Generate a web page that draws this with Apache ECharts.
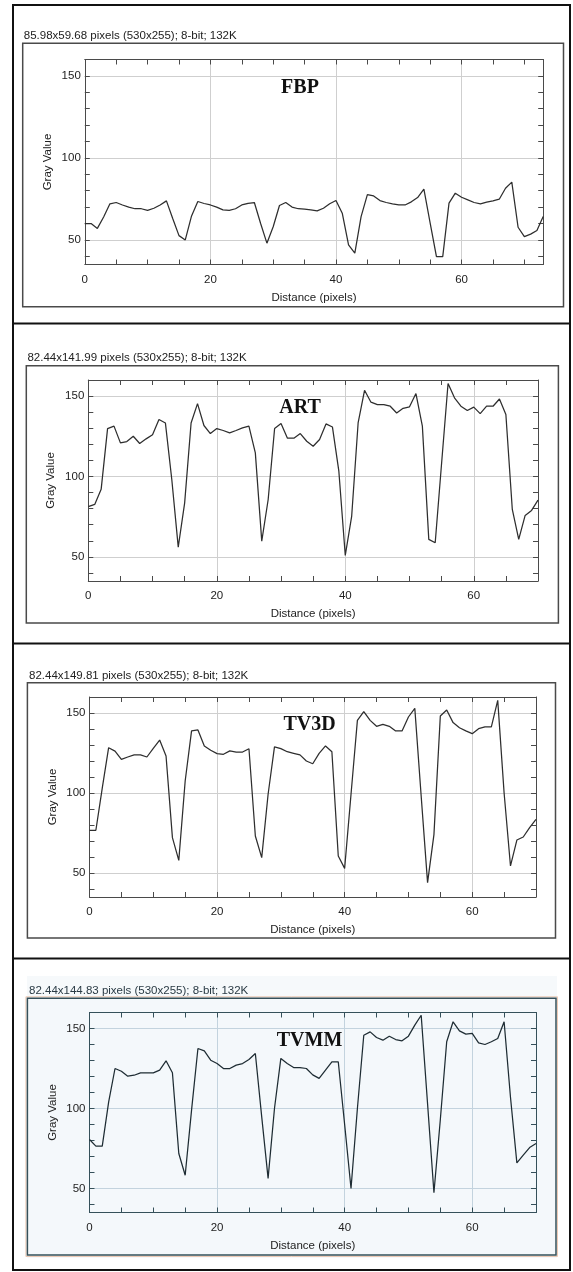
<!DOCTYPE html>
<html>
<head>
<meta charset="utf-8">
<script src="https://cdn.jsdelivr.net/npm/echarts@6/dist/echarts.min.js"></script>
<style>
html, body { margin: 0; padding: 0; background: #fff; }
#chart { width: 573px; height: 1272px; }
</style>
</head>
<body>
<div id="chart"></div>
<script>
// gray value profiles, one value per pixel of distance
const fbpValues = [60, 60, 57, 64, 72, 72.8, 71.3, 70, 69, 69, 68, 69.3, 71.3, 73.8, 63, 52.6, 50, 64.6, 73.4, 72.2,
    71.3, 70, 68.3, 68, 69, 71.3, 72.3, 72.8, 60, 48, 58, 71, 72.8, 70, 69, 68.8, 68.3, 67.7, 69.3, 72,
    74, 66.3, 47, 41.9, 64.2, 77.6, 76.8, 74, 72.8, 72, 71.3, 71.3, 73.2, 75.8, 80.9, 60.2, 39.8, 39.8, 72.4, 78.5,
    76, 74.4, 72.8, 72, 73, 73.8, 74.8, 81.5, 85.2, 57.7, 52, 53.5, 55.7, 64.2]
const artValues = [81.2, 82.6, 92, 129.8, 131.3, 120.9, 121.7, 125, 120.5, 123.4, 125.9, 135.4, 133.3, 98, 56.1, 83.6, 133.3, 145.3, 131.7, 126.7,
    129.8, 128.6, 127.1, 128.6, 130.2, 131.3, 114.7, 59.8, 85.7, 129.8, 132.9, 123.8, 123.8, 126.7, 121.9, 118.8, 123, 132.7, 130.8, 103.3,
    50.9, 75.4, 133.3, 153.6, 146.2, 144.7, 144.7, 143.7, 139.5, 142.4, 143.3, 151.6, 131.3, 60.9, 58.8, 108.5, 157.8, 148.9, 143.7, 141,
    143.1, 139.1, 143.7, 143.7, 148.2, 138.5, 79.5, 60.9, 75.8, 78.9, 85.3]
const tv3dValues = [76.7, 76.7, 103, 128.3, 126.2, 121, 122.5, 123.8, 123.8, 122.5, 127.9, 133.1, 123.1, 72.1, 57.9, 107.5, 138.8, 139.4, 129.4, 126.7,
    124.6, 124.2, 126.3, 125.6, 125.6, 127.7, 73.1, 59.6, 99.2, 128.8, 127.7, 125.8, 124.8, 123.8, 120, 118.3, 124.8, 129.4, 125.8, 60.6,
    52.9, 99.2, 145.4, 150.8, 145.4, 141.7, 142.9, 141.7, 138.8, 138.8, 147.5, 152.9, 98, 44, 74, 148.1, 151.9, 144, 140.8, 138.8,
    137.1, 140.2, 141.3, 141.3, 157.9, 100, 54.4, 70.6, 72.5, 78.3, 83.5]
const tvmmValues = [80.6, 76.5, 76.5, 104, 125, 123.3, 120.2, 120.8, 122.3, 122.3, 122.3, 124, 129.8, 122.3, 71.9, 58.3, 99, 137.5, 136, 130.2,
    128.1, 125, 125, 127.1, 128.1, 130.6, 134.4, 94.8, 56.3, 100, 131.3, 128.1, 125.6, 125.6, 125, 121, 118.8, 124, 129.2, 129.2,
    90, 50, 100, 145.8, 147.9, 144.4, 142.7, 145.2, 143.1, 142.3, 145.2, 152.1, 158.3, 103, 47.3, 93, 141.7, 154.2, 148.5, 146.5,
    146.9, 141, 140, 141.7, 143.75, 154.2, 107, 66, 70.8, 75.6, 78.1]

const methods = ['FBP', 'ART', 'TV3D', 'TVMM']
const captions = [
    '85.98x59.68 pixels (530x255); 8-bit; 132K',
    '82.44x141.99 pixels (530x255); 8-bit; 132K',
    '82.44x149.81 pixels (530x255); 8-bit; 132K',
    '82.44x144.83 pixels (530x255); 8-bit; 132K'
]
const xMaxes = [73, 70, 70, 70]
const xTicks = [0, 5, 10, 15, 20, 25, 30, 35, 40, 45, 50, 55, 60, 65, 70]
const xLabels = [0, 20, 40, 60]
const yTicks = [40, 50, 60, 70, 80, 90, 100, 110, 120, 130, 140, 150, 160]
const yLabels = [50, 100, 150]
const yMin = 35
const yMax = 160

const sans = '"Liberation Sans", Arial, sans-serif'
const serif = '"Liberation Serif", "Times New Roman", serif'

// layout of each ImageJ window
const panels = [
    { grid: { left: 84.8, top: 59.5, width: 458.4, height: 205 }, win: [22.7, 43.3, 540.8, 263.4], cap: [23.8, 36], tag: [300, 88] },
    { grid: { left: 88.3, top: 380, width: 449.7, height: 201 }, win: [26.3, 365.7, 532.1, 257.3], cap: [27.4, 358], tag: [300, 408] },
    { grid: { left: 89.5, top: 697, width: 446.5, height: 200 }, win: [27.4, 682.7, 528.1, 255.3], cap: [29, 676], tag: [309.5, 725] },
    { grid: { left: 89.5, top: 1012.5, width: 446.5, height: 200 }, win: [27.4, 998.3, 528.6, 256.7], cap: [29, 990.7], tag: [309.5, 1041] }
]
const seriesData = [fbpValues, artValues, tv3dValues, tvmmValues]

const chart = echarts.init(document.getElementById('chart'), null, { renderer: 'canvas' })

const grids = [], xAxes = [], yAxes = [], series = [], graphics = []

panels.forEach((p, i) => {
    const last = i === 3
    const frame = last ? '#35505a' : '#4a4a4a'
    const gridColor = last ? '#c3d3de' : '#cfcfcf'
    const lineColor = last ? '#1e2c33' : '#2e2e2e'
    grids.push(Object.assign({ outerBoundsMode: 'none', containLabel: false }, p.grid))

    const xBase = { gridIndex: i, type: 'value', min: 0, max: xMaxes[i] }
    xAxes.push(Object.assign({}, xBase, {
        position: 'bottom',
        axisLine: { show: true, onZero: false, lineStyle: { color: frame, width: 1 } },
        axisTick: { show: true, inside: true, length: 5, customValues: xTicks, lineStyle: { color: frame } },
        axisLabel: { customValues: xLabels, color: '#222', fontSize: 11.5, fontFamily: sans, margin: 9 },
        splitLine: { show: false },
        name: 'Distance (pixels)', nameLocation: 'middle', nameGap: 27,
        nameTextStyle: { color: '#222', fontSize: 11.5, fontFamily: sans }
    }))
    xAxes.push(Object.assign({}, xBase, {
        position: 'top',
        axisLine: { show: true, onZero: false, lineStyle: { color: frame, width: 1 } },
        axisTick: { show: true, inside: true, length: 5, customValues: xTicks, lineStyle: { color: frame } },
        axisLabel: { show: false },
        splitLine: { show: false }
    }))
    xAxes.push(Object.assign({}, xBase, {
        position: 'bottom',
        axisLine: { show: false, onZero: false },
        axisTick: { show: false, customValues: xLabels },
        axisLabel: { show: false },
        splitLine: { show: true, lineStyle: { color: gridColor, width: 1 } }
    }))

    const yBase = { gridIndex: i, type: 'value', min: yMin, max: yMax }
    yAxes.push(Object.assign({}, yBase, {
        position: 'left',
        axisLine: { show: true, onZero: false, lineStyle: { color: frame, width: 1 } },
        axisTick: { show: true, inside: true, length: 5, customValues: yTicks, lineStyle: { color: frame } },
        axisLabel: { customValues: yLabels, color: '#222', fontSize: 11.5, fontFamily: sans, margin: 4 },
        splitLine: { show: false },
        name: 'Gray Value', nameLocation: 'middle', nameGap: 31, nameMoveOverlap: false,
        nameTextStyle: { color: '#222', fontSize: 11.5, fontFamily: sans }
    }))
    yAxes.push(Object.assign({}, yBase, {
        position: 'right',
        axisLine: { show: true, onZero: false, lineStyle: { color: frame, width: 1 } },
        axisTick: { show: true, inside: true, length: 5, customValues: yTicks, lineStyle: { color: frame } },
        axisLabel: { show: false },
        splitLine: { show: false }
    }))
    yAxes.push(Object.assign({}, yBase, {
        position: 'left',
        axisLine: { show: false, onZero: false },
        axisTick: { show: false, customValues: yLabels },
        axisLabel: { show: false },
        splitLine: { show: true, lineStyle: { color: gridColor, width: 1 } }
    }))

    series.push({
        name: methods[i],
        type: 'line',
        xAxisIndex: i * 3,
        yAxisIndex: i * 3,
        data: seriesData[i].map((v, k) => [k, v]),
        showSymbol: false,
        symbol: 'none',
        lineStyle: { color: lineColor, width: 1.25 },
        z: 5
    })

    // ImageJ window frame, caption and method name
    if (last) {
        graphics.push({
            type: 'rect', z: -2, silent: true,
            shape: { x: 27, y: 976, width: 530, height: 282 },
            style: { fill: '#f6f9fb' }
        })
        graphics.push({
            type: 'rect', z: -1, silent: true,
            shape: { x: p.win[0] - 1.5, y: p.win[1] - 1.5, width: p.win[2] + 3, height: p.win[3] + 3 },
            style: { fill: 'none', stroke: '#ecc9b4', lineWidth: 1 }
        })
    }
    graphics.push({
        type: 'rect', z: -1, silent: true,
        shape: { x: p.win[0], y: p.win[1], width: p.win[2], height: p.win[3] },
        style: { fill: last ? '#f4f8fb' : 'none', stroke: frame, lineWidth: 1.5 }
    })
    graphics.push({
        type: 'text', silent: true, x: p.cap[0], y: p.cap[1],
        style: { text: captions[i], fill: last ? '#2a3a44' : '#222', font: '11.5px ' + sans, align: 'left', verticalAlign: 'middle' }
    })
    graphics.push({
        type: 'text', silent: true, z: 10, x: p.tag[0], y: p.tag[1],
        style: { text: methods[i], fill: '#111', font: 'bold 20px ' + serif, align: 'center', verticalAlign: 'middle' }
    })
})

// outer black border and dividers of the figure
graphics.push({
    type: 'rect', silent: true,
    shape: { x: 13, y: 5, width: 557, height: 1265 },
    style: { fill: 'none', stroke: '#111', lineWidth: 2 }
})
;[323.5, 643.5, 958.5].forEach(y => {
    graphics.push({
        type: 'line', silent: true,
        shape: { x1: 13, y1: y, x2: 570, y2: y },
        style: { stroke: '#111', lineWidth: 2 }
    })
})

const option = {
    animation: false,
    backgroundColor: '#fff',
    grid: grids,
    xAxis: xAxes,
    yAxis: yAxes,
    series: series,
    graphic: { elements: graphics }
}
chart.setOption(option)
window.addEventListener('resize', () => {
    chart.resize()
})
</script>
</body>
</html>
